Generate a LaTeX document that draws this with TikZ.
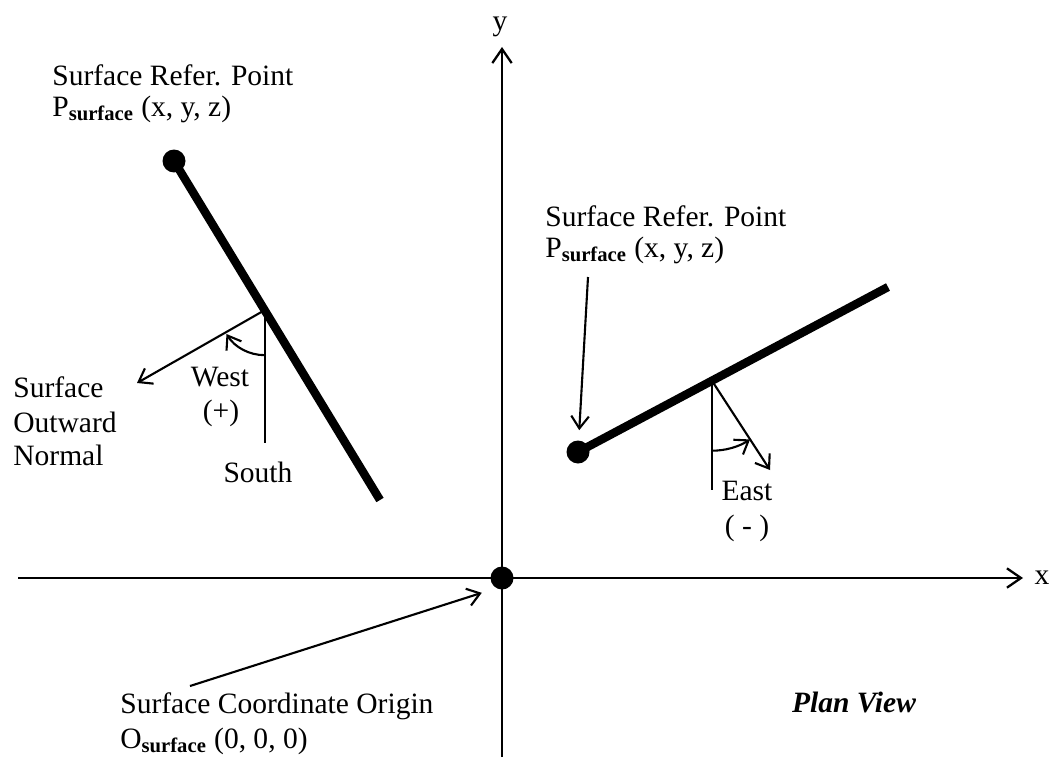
\documentclass[tikz,border=0pt]{standalone}
\usepackage{fontspec}
\setmainfont{Liberation Serif}
\usetikzlibrary{arrows.meta, calc}

\begin{document}
\begin{tikzpicture}[
  x=0.02cm, y=-0.02cm,
  txt/.style={font=\fontsize{16.8}{20}\selectfont, inner sep=0pt},
  txtl/.style={txt, anchor=base west},
  txtc/.style={txt, anchor=base},
  dot/.style={circle, fill=black, inner sep=0pt, minimum size=0.46cm},
  axis/.style={-{Straight Barb[length=8pt, width=11pt]}, line width=1.3pt},
  arr/.style={-{Straight Barb[length=7pt, width=10pt]}, line width=1.2pt},
  wall/.style={line width=4.8pt},
  thin/.style={line width=1pt},
]
\useasboundingbox (0,0) rectangle (1050,757);

% axes
\node[dot] (O) at (502,578) {};
\coordinate (xa0) at (18,578);
\coordinate (xa1) at (1023,578);
\coordinate (ya0) at (502,757);
\coordinate (ya1) at (502,47);
\draw[axis] (xa0) -- (xa1);
\draw[axis] (ya0) -- (ya1);
\node[txt] (xl) at (1042,578) {x};
\node[txtc] (yl) at (500,31) {y};

% left surface
\node[dot] (pl) at (174,161) {};
\coordinate (pl end) at (380,500);
\draw[wall] (pl.center) -- (pl end);
\coordinate (vl) at ($(pl.center)!0.44!(pl end)$);
\coordinate (sl) at (0,443);
\coordinate (nl) at (137,383);
\draw[thin] (vl) -- (vl |- sl);
\draw[arr] (vl) -- (nl);
\draw[arr] ($(vl)+(90:45)$) arc (90:148:45);

% right surface
\node[dot] (pr) at (578,452) {};
\coordinate (pr end) at (888,287);
\draw[wall] (pr.center) -- (pr end);
\coordinate (vr) at ($(pr.center)!0.432!(pr end)$);
\coordinate (sr) at (0,490);
\coordinate (nr) at (770,470);
\draw[thin] (vr) -- (vr |- sr);
\draw[arr] (vr) -- (nr);
\draw[arr] ($(vr)+(90:70)$) arc (90:57:70);

% labels
\node[txtl] (refl) at (52,86) {Surface Refer. Point};
\node[txtl] (psl) at (52,116) {P\textsubscript{\bfseries surface} (x, y, z)};
\node[txtl] (refr) at (545,226) {Surface Refer. Point};
\node[txtl] (psr) at (545,257) {P\textsubscript{\bfseries surface} (x, y, z)};
\coordinate (ar) at (588,277);
\draw[arr, shorten >=0.2cm] (ar) -- (pr);

\node[txtl] (nrm1) at (13,397) {Surface};
\node[txtl] (nrm2) at (13,432) {Outward};
\node[txtl] (nrm3) at (13,465) {Normal};
\node[txtc] (west) at (220,386) {West};
\node[txtc] (plus) at (221,420) {(+)};
\node[txtc] (south) at (258,482) {South};
\node[txtc] (east) at (747,500) {East};
\node[txtc] (minus) at (747,535) {( - )};

\node[txtl] (orig) at (120,713) {Surface Coordinate Origin};
\node[txtl] (osurf) at (120,748) {O\textsubscript{\bfseries surface} (0, 0, 0)};
\coordinate (oa) at (190,686);
\draw[arr, shorten >=0.3cm] (oa) -- (O.240);

\node[txtc, font=\fontsize{16.8}{20}\selectfont\bfseries\itshape] (plan) at (854,712) {Plan View};

\end{tikzpicture}
\end{document}
